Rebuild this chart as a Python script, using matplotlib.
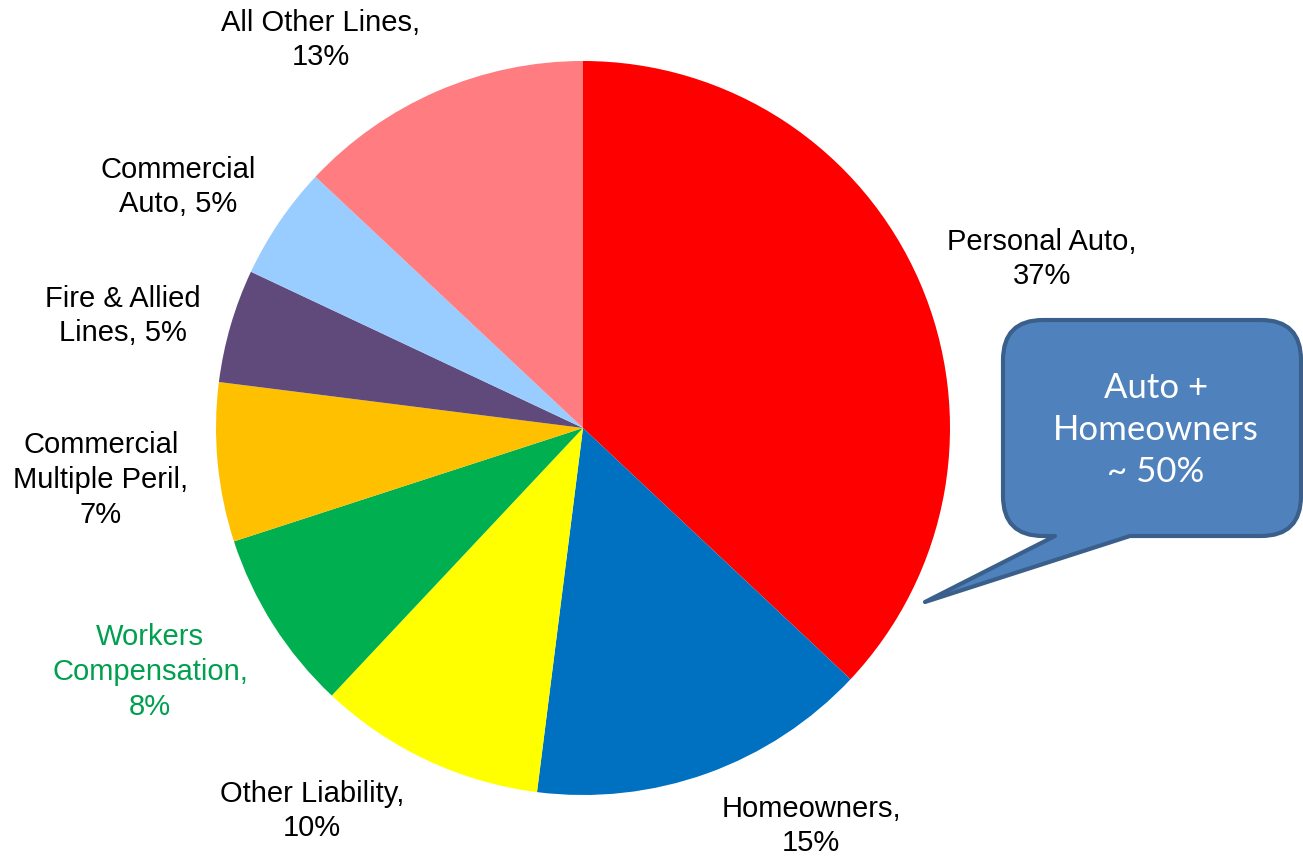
import matplotlib

matplotlib.use("Agg")
import matplotlib.pyplot as plt
from matplotlib.path import Path
from matplotlib.patches import PathPatch

W, H = 1303, 859

lines = [
    "Personal Auto", "Homeowners", "Other Liability", "Workers\nCompensation",
    "Commercial\nMultiple Peril", "Fire & Allied\nLines", "Commercial\nAuto",
    "All Other Lines",
]
shares = [37, 15, 10, 8, 7, 5, 5, 13]
colors = ["#FF0000", "#0070C0", "#FFFF00", "#00B050", "#FFC000", "#604A7B",
          "#99CCFF", "#FF7C80"]
label_colors = ["black", "black", "black", "#00A050", "black", "black",
                "black", "black"]
# label text centres, pixels from the top-left corner
label_pos = [(1042, 259), (811, 826), (312, 811), (150, 672),
             (101, 480), (123, 316), (178, 187), (321, 40)]
label_break = [",\n", ",\n", ",\n", ",\n", ",\n", ", ", ", ", ",\n"]

callout_text = "Auto +\nHomeowners\n~ 50%"


def flip(x, y):
    return x, H - y


fig = plt.figure(figsize=(W / 100, H / 100), dpi=100)
ax = fig.add_axes([0, 0, 1, 1])

ax.pie(shares, colors=colors, startangle=90, counterclock=False,
       center=flip(583, 428), radius=367, frame=True,
       wedgeprops=dict(linewidth=0))
ax.set_xlim(0, W)
ax.set_ylim(0, H)
ax.set_aspect("equal")
ax.axis("off")

for name, share, col, (px, py), sep in zip(lines, shares, label_colors,
                                           label_pos, label_break):
    ax.text(*flip(px, py), f"{name}{sep}{share}%", ha="center", va="center",
            fontsize=21, color=col, family="Liberation Sans", linespacing=1.3)

# speech-bubble callout with its tail pointing at the two auto/home slices
left, right, top, bottom, r = 1003, 1301, 320, 536, 40
tip = (925, 602)
pts = [
    ((left + r, top), Path.MOVETO),
    ((right - r, top), Path.LINETO),
    ((right, top), Path.CURVE3), ((right, top + r), Path.CURVE3),
    ((right, bottom - r), Path.LINETO),
    ((right, bottom), Path.CURVE3), ((right - r, bottom), Path.CURVE3),
    ((1130, bottom), Path.LINETO),
    (tip, Path.LINETO),
    ((1055, bottom), Path.LINETO),
    ((left + r, bottom), Path.LINETO),
    ((left, bottom), Path.CURVE3), ((left, bottom - r), Path.CURVE3),
    ((left, top + r), Path.LINETO),
    ((left, top), Path.CURVE3), ((left + r, top), Path.CURVE3),
    ((left + r, top), Path.CLOSEPOLY),
]
verts = [flip(x, y) for (x, y), _ in pts]
codes = [c for _, c in pts]
ax.add_patch(PathPatch(Path(verts, codes), facecolor="#4F81BD",
                       edgecolor="#3A5F8B", linewidth=3, joinstyle="round"))
ax.text(*flip(1156, 430), callout_text, ha="center", va="center",
        fontsize=25, color="white", family="Lato", linespacing=1.38)

fig.savefig("out.png", dpi=100)
